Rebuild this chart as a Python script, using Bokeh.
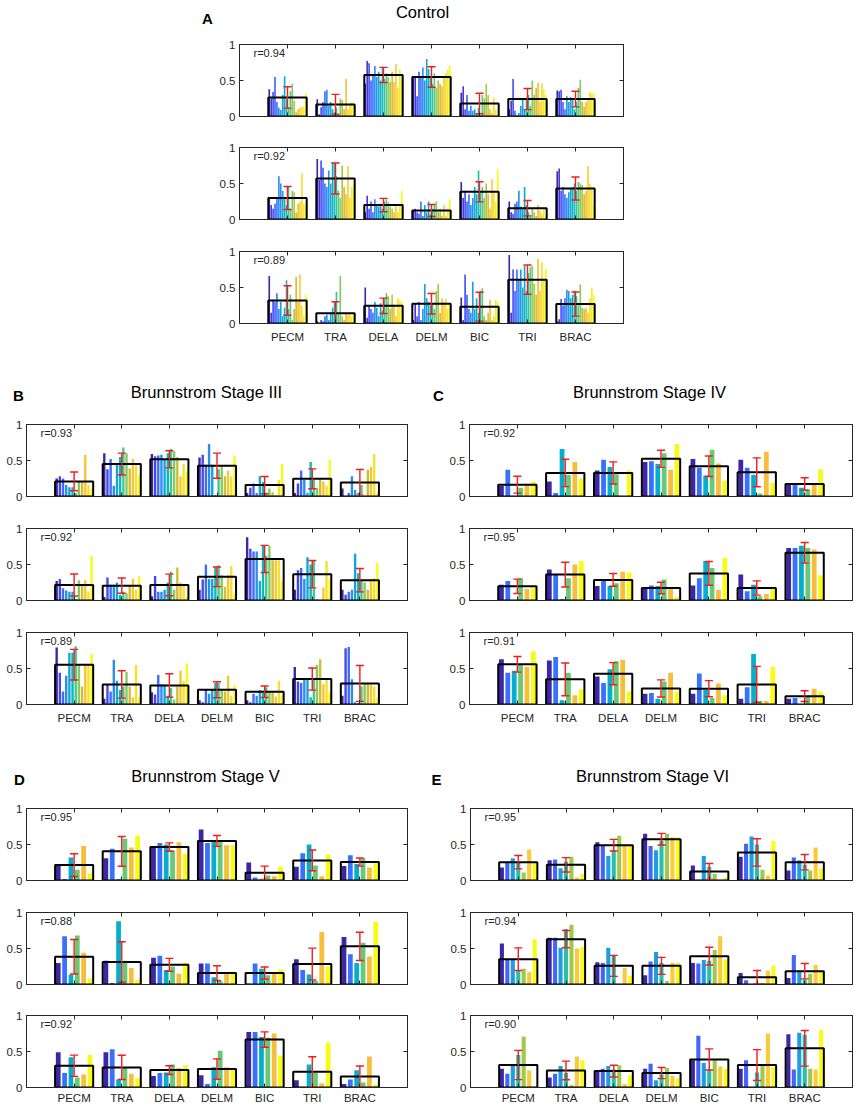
import numpy as np
from bokeh.plotting import figure
from bokeh.models import Range1d, LinearAxis, FixedTicker, Label, ColumnDataSource
from bokeh.layouts import column, row
from bokeh.embed import file_html
from bokeh.resources import INLINE

# ---------------- data ----------------
muscles = ["PECM", "TRA", "DELA", "DELM", "BIC", "TRI", "BRAC"]
ytick_vals = [0, 0.5, 1]
ytick_labels = ["0", "0.5", "1"]

panel_titles = ["Control", "Brunnstrom Stage III", "Brunnstrom Stage IV", "Brunnstrom Stage V", "Brunnstrom Stage VI"]
panel_letters = ["A", "B", "C", "D", "E"]

# correlation values per panel (rows 1..3)
A_r = [0.94, 0.92, 0.89]
B_r = [0.93, 0.92, 0.89]
C_r = [0.92, 0.95, 0.91]
D_r = [0.95, 0.88, 0.92]
E_r = [0.95, 0.94, 0.90]

# ----- Control (20 subjects) -----
A1_vals = [
    [0.38, 0.25, 0.34, 0.55, 0.20, 0.12, 0.09, 0.30, 0.56, 0.24, 0.12, 0.35, 0.45, 0.22, 0.06, 0.10, 0.12, 0.13, 0.14, 0.32],
    [0.24, 0.03, 0.13, 0.20, 0.35, 0.37, 0.15, 0.20, 0.10, 0.06, 0.12, 0.04, 0.25, 0.23, 0.10, 0.52, 0.10, 0.18, 0.20, 0.15],
    [0.46, 0.77, 0.74, 0.50, 0.58, 0.70, 0.55, 0.62, 0.50, 0.68, 0.52, 0.60, 0.55, 0.48, 0.62, 0.48, 0.73, 0.40, 0.65, 0.55],
    [0.53, 0.55, 0.28, 0.62, 0.55, 0.68, 0.50, 0.80, 0.66, 0.55, 0.45, 0.60, 0.40, 0.50, 0.45, 0.42, 0.55, 0.60, 0.65, 0.71],
    [0.33, 0.42, 0.10, 0.30, 0.08, 0.15, 0.08, 0.10, 0.05, 0.12, 0.02, 0.30, 0.25, 0.45, 0.30, 0.10, 0.05, 0.26, 0.10, 0.02],
    [0.10, 0.22, 0.52, 0.08, 0.02, 0.05, 0.15, 0.25, 0.10, 0.23, 0.30, 0.15, 0.50, 0.30, 0.40, 0.47, 0.20, 0.45, 0.38, 0.30],
    [0.36, 0.35, 0.37, 0.20, 0.10, 0.28, 0.20, 0.27, 0.24, 0.10, 0.20, 0.40, 0.51, 0.20, 0.14, 0.20, 0.24, 0.34, 0.32, 0.33],
]
A1_mean = [0.265, 0.167, 0.577, 0.549, 0.181, 0.242, 0.242]
A1_err = [0.149, 0.140, 0.105, 0.142, 0.142, 0.147, 0.109]

A2_vals = [
    [0.30, 0.20, 0.15, 0.22, 0.30, 0.60, 0.50, 0.40, 0.30, 0.20, 0.45, 0.15, 0.40, 0.38, 0.10, 0.22, 0.25, 0.64, 0.22, 0.22],
    [0.84, 0.55, 0.82, 0.72, 0.50, 0.45, 0.68, 0.50, 0.80, 0.78, 0.60, 0.40, 0.30, 0.75, 0.45, 0.35, 0.74, 0.30, 0.45, 0.50],
    [0.10, 0.33, 0.15, 0.25, 0.10, 0.28, 0.20, 0.18, 0.22, 0.15, 0.25, 0.28, 0.24, 0.18, 0.15, 0.10, 0.22, 0.10, 0.20, 0.40],
    [0.12, 0.15, 0.10, 0.08, 0.25, 0.05, 0.20, 0.10, 0.25, 0.08, 0.15, 0.20, 0.25, 0.10, 0.15, 0.05, 0.20, 0.05, 0.15, 0.28],
    [0.52, 0.30, 0.40, 0.25, 0.35, 0.20, 0.30, 0.45, 0.35, 0.68, 0.40, 0.45, 0.30, 0.50, 0.35, 0.15, 0.56, 0.40, 0.25, 0.70],
    [0.25, 0.10, 0.08, 0.22, 0.25, 0.40, 0.18, 0.15, 0.45, 0.20, 0.10, 0.05, 0.15, 0.10, 0.05, 0.20, 0.12, 0.08, 0.15, 0.05],
    [0.67, 0.71, 0.40, 0.45, 0.35, 0.30, 0.38, 0.42, 0.45, 0.50, 0.40, 0.52, 0.50, 0.48, 0.35, 0.40, 0.74, 0.50, 0.45, 0.20],
]
A2_mean = [0.298, 0.570, 0.200, 0.125, 0.385, 0.157, 0.430]
A2_err = [0.160, 0.215, 0.093, 0.083, 0.140, 0.107, 0.160]

A3_vals = [
    [0.66, 0.15, 0.33, 0.30, 0.42, 0.20, 0.30, 0.10, 0.22, 0.60, 0.20, 0.40, 0.05, 0.20, 0.65, 0.30, 0.68, 0.25, 0.10, 0.40],
    [0.03, 0.00, 0.05, 0.03, 0.10, 0.12, 0.05, 0.15, 0.22, 0.30, 0.44, 0.15, 0.66, 0.10, 0.05, 0.15, 0.12, 0.14, 0.10, 0.15],
    [0.50, 0.08, 0.25, 0.20, 0.15, 0.30, 0.22, 0.10, 0.28, 0.18, 0.35, 0.42, 0.38, 0.20, 0.40, 0.25, 0.10, 0.35, 0.32, 0.30],
    [0.05, 0.27, 0.10, 0.30, 0.05, 0.20, 0.55, 0.35, 0.30, 0.25, 0.28, 0.20, 0.45, 0.55, 0.15, 0.35, 0.30, 0.34, 0.20, 0.25],
    [0.36, 0.05, 0.68, 0.40, 0.20, 0.15, 0.58, 0.20, 0.35, 0.15, 0.46, 0.49, 0.10, 0.05, 0.15, 0.33, 0.05, 0.10, 0.33, 0.30],
    [0.95, 0.15, 0.75, 0.45, 0.75, 0.60, 0.75, 0.50, 0.80, 0.45, 0.70, 0.78, 0.80, 0.55, 0.40, 0.90, 0.45, 0.85, 0.60, 0.76],
    [0.03, 0.06, 0.34, 0.25, 0.35, 0.47, 0.45, 0.35, 0.40, 0.46, 0.38, 0.25, 0.54, 0.22, 0.20, 0.22, 0.15, 0.35, 0.50, 0.40],
]
A3_mean = [0.320, 0.144, 0.246, 0.274, 0.233, 0.609, 0.270]
A3_err = [0.205, 0.158, 0.107, 0.142, 0.200, 0.203, 0.168]

# ----- Brunnstrom Stage III (12 subjects) -----
B1_vals = [
    [0.25, 0.28, 0.25, 0.16, 0.13, 0.13, 0.05, 0.20, 0.20, 0.58, 0.16, 0.11],
    [0.60, 0.38, 0.52, 0.15, 0.45, 0.55, 0.68, 0.60, 0.39, 0.52, 0.45, 0.30],
    [0.59, 0.56, 0.57, 0.58, 0.52, 0.60, 0.66, 0.63, 0.55, 0.28, 0.45, 0.35],
    [0.54, 0.58, 0.44, 0.73, 0.44, 0.02, 0.38, 0.43, 0.28, 0.36, 0.28, 0.57],
    [0.05, 0.12, 0.18, 0.05, 0.28, 0.20, 0.05, 0.11, 0.06, 0.02, 0.23, 0.45],
    [0.05, 0.18, 0.36, 0.23, 0.05, 0.48, 0.23, 0.12, 0.25, 0.21, 0.15, 0.51],
    [0.11, 0.00, 0.05, 0.28, 0.09, 0.05, 0.16, 0.00, 0.37, 0.41, 0.59, 0.05],
]
B1_mean = [0.210, 0.450, 0.516, 0.428, 0.158, 0.246, 0.195]
B1_err = [0.130, 0.152, 0.119, 0.175, 0.119, 0.138, 0.179]

B2_vals = [
    [0.27, 0.30, 0.17, 0.14, 0.12, 0.12, 0.02, 0.28, 0.20, 0.28, 0.12, 0.62],
    [0.05, 0.32, 0.22, 0.22, 0.25, 0.08, 0.12, 0.10, 0.20, 0.30, 0.15, 0.34],
    [0.06, 0.34, 0.12, 0.12, 0.15, 0.25, 0.40, 0.15, 0.46, 0.25, 0.20, 0.05],
    [0.15, 0.29, 0.50, 0.30, 0.30, 0.46, 0.49, 0.35, 0.19, 0.35, 0.48, 0.10],
    [0.88, 0.72, 0.68, 0.68, 0.27, 0.77, 0.62, 0.76, 0.56, 0.56, 0.56, 0.27],
    [0.15, 0.42, 0.45, 0.30, 0.60, 0.50, 0.55, 0.02, 0.01, 0.18, 0.55, 0.30],
    [0.15, 0.08, 0.12, 0.15, 0.65, 0.38, 0.28, 0.25, 0.15, 0.30, 0.31, 0.52],
]
B2_mean = [0.216, 0.206, 0.216, 0.329, 0.577, 0.366, 0.282]
B2_err = [0.153, 0.106, 0.150, 0.136, 0.188, 0.190, 0.162]

B3_vals = [
    [0.79, 0.44, 0.18, 0.40, 0.72, 0.72, 0.81, 0.55, 0.25, 0.55, 0.55, 0.70],
    [0.08, 0.27, 0.18, 0.62, 0.33, 0.20, 0.25, 0.45, 0.25, 0.10, 0.55, 0.10],
    [0.17, 0.14, 0.41, 0.28, 0.28, 0.12, 0.23, 0.07, 0.25, 0.47, 0.33, 0.57],
    [0.06, 0.03, 0.20, 0.15, 0.20, 0.30, 0.30, 0.21, 0.18, 0.40, 0.12, 0.27],
    [0.06, 0.03, 0.15, 0.12, 0.20, 0.16, 0.24, 0.18, 0.17, 0.11, 0.33, 0.13],
    [0.52, 0.32, 0.30, 0.35, 0.35, 0.10, 0.35, 0.55, 0.63, 0.28, 0.35, 0.18],
    [0.12, 0.78, 0.80, 0.35, 0.03, 0.02, 0.25, 0.28, 0.28, 0.27, 0.25, 0.10],
]
B3_mean = [0.553, 0.279, 0.265, 0.205, 0.177, 0.353, 0.293]
B3_err = [0.212, 0.190, 0.163, 0.112, 0.079, 0.154, 0.249]

# ----- Brunnstrom Stage IV (6 subjects) -----
C1_vals = [
    [0.15, 0.37, 0.00, 0.12, 0.15, 0.20],
    [0.21, 0.05, 0.66, 0.30, 0.48, 0.25],
    [0.36, 0.51, 0.41, 0.31, 0.00, 0.36],
    [0.48, 0.49, 0.45, 0.60, 0.37, 0.73],
    [0.52, 0.40, 0.29, 0.65, 0.46, 0.22],
    [0.51, 0.40, 0.30, 0.04, 0.62, 0.19],
    [0.17, 0.17, 0.12, 0.10, 0.16, 0.38],
]
C1_mean = [0.164, 0.327, 0.327, 0.523, 0.420, 0.336, 0.173]
C1_err = [0.117, 0.190, 0.154, 0.119, 0.143, 0.201, 0.087]

C2_vals = [
    [0.22, 0.27, 0.00, 0.31, 0.16, 0.18],
    [0.43, 0.36, 0.02, 0.31, 0.50, 0.55],
    [0.20, 0.30, 0.20, 0.24, 0.40, 0.39],
    [0.17, 0.21, 0.20, 0.29, 0.17, 0.05],
    [0.21, 0.31, 0.55, 0.45, 0.15, 0.59],
    [0.36, 0.13, 0.22, 0.06, 0.09, 0.19],
    [0.73, 0.73, 0.76, 0.73, 0.71, 0.35],
]
C2_mean = [0.197, 0.360, 0.286, 0.174, 0.376, 0.174, 0.662]
C2_err = [0.100, 0.172, 0.088, 0.080, 0.165, 0.099, 0.143]

C3_vals = [
    [0.63, 0.44, 0.47, 0.56, 0.52, 0.74],
    [0.61, 0.66, 0.06, 0.44, 0.13, 0.21],
    [0.39, 0.30, 0.49, 0.60, 0.62, 0.18],
    [0.15, 0.16, 0.08, 0.32, 0.44, 0.18],
    [0.15, 0.43, 0.20, 0.09, 0.29, 0.13],
    [0.08, 0.24, 0.70, 0.05, 0.05, 0.52],
    [0.08, 0.09, 0.00, 0.12, 0.22, 0.18],
]
C3_mean = [0.558, 0.349, 0.428, 0.223, 0.219, 0.279, 0.116]
C3_err = [0.109, 0.228, 0.154, 0.119, 0.112, 0.251, 0.075]

# ----- Brunnstrom Stage V (6 subjects) -----
D1_vals = [
    [0.21, 0.02, 0.32, 0.15, 0.48, 0.10],
    [0.31, 0.44, 0.02, 0.58, 0.46, 0.62],
    [0.46, 0.52, 0.50, 0.42, 0.53, 0.37],
    [0.71, 0.52, 0.56, 0.55, 0.49, 0.49],
    [0.25, 0.04, 0.02, 0.07, 0.06, 0.19],
    [0.19, 0.38, 0.50, 0.21, 0.06, 0.36],
    [0.20, 0.35, 0.23, 0.31, 0.18, 0.24],
]
D1_mean = [0.214, 0.405, 0.465, 0.549, 0.107, 0.279, 0.256]
D1_err = [0.158, 0.207, 0.058, 0.075, 0.093, 0.144, 0.056]

D2_vals = [
    [0.30, 0.67, 0.14, 0.68, 0.44, 0.08],
    [0.33, 0.02, 0.88, 0.33, 0.23, 0.07],
    [0.37, 0.40, 0.20, 0.25, 0.15, 0.30],
    [0.29, 0.29, 0.10, 0.05, 0.16, 0.18],
    [0.01, 0.29, 0.22, 0.13, 0.15, 0.21],
    [0.35, 0.20, 0.14, 0.05, 0.73, 0.25],
    [0.66, 0.42, 0.30, 0.58, 0.39, 0.87],
]
D2_mean = [0.386, 0.312, 0.274, 0.158, 0.158, 0.284, 0.530]
D2_err = [0.240, 0.281, 0.089, 0.102, 0.086, 0.221, 0.196]

D3_vals = [
    [0.49, 0.20, 0.42, 0.14, 0.18, 0.45],
    [0.49, 0.53, 0.11, 0.28, 0.19, 0.13],
    [0.16, 0.20, 0.21, 0.32, 0.27, 0.31],
    [0.17, 0.05, 0.28, 0.51, 0.28, 0.27],
    [0.77, 0.77, 0.70, 0.69, 0.75, 0.44],
    [0.10, 0.01, 0.32, 0.20, 0.06, 0.62],
    [0.05, 0.11, 0.24, 0.07, 0.43, 0.04],
]
D3_mean = [0.302, 0.279, 0.242, 0.256, 0.665, 0.219, 0.153]
D3_err = [0.147, 0.168, 0.061, 0.142, 0.107, 0.209, 0.146]

# ----- Brunnstrom Stage VI (7 subjects) -----
E1_vals = [
    [0.18, 0.25, 0.31, 0.25, 0.11, 0.43, 0.25],
    [0.28, 0.29, 0.17, 0.26, 0.33, 0.04, 0.09],
    [0.53, 0.48, 0.34, 0.42, 0.62, 0.48, 0.48],
    [0.65, 0.48, 0.42, 0.55, 0.65, 0.60, 0.60],
    [0.21, 0.01, 0.34, 0.19, 0.09, 0.01, 0.04],
    [0.33, 0.51, 0.61, 0.50, 0.15, 0.07, 0.55],
    [0.14, 0.32, 0.28, 0.22, 0.14, 0.46, 0.17],
]
E1_mean = [0.255, 0.218, 0.490, 0.574, 0.125, 0.389, 0.255]
E1_err = [0.093, 0.100, 0.081, 0.081, 0.111, 0.190, 0.107]

E2_vals = [
    [0.57, 0.35, 0.35, 0.19, 0.22, 0.17, 0.63],
    [0.65, 0.65, 0.51, 0.77, 0.83, 0.50, 0.52],
    [0.31, 0.30, 0.51, 0.40, 0.00, 0.23, 0.12],
    [0.13, 0.32, 0.45, 0.30, 0.05, 0.30, 0.30],
    [0.30, 0.29, 0.34, 0.33, 0.48, 0.67, 0.35],
    [0.16, 0.06, 0.00, 0.02, 0.02, 0.19, 0.26],
    [0.09, 0.41, 0.19, 0.07, 0.15, 0.27, 0.18],
]
E2_mean = [0.352, 0.630, 0.259, 0.259, 0.394, 0.102, 0.185]
E2_err = [0.157, 0.120, 0.146, 0.118, 0.123, 0.093, 0.107]

E3_vals = [
    [0.26, 0.19, 0.32, 0.45, 0.71, 0.24, 0.02],
    [0.14, 0.19, 0.30, 0.20, 0.03, 0.43, 0.38],
    [0.23, 0.26, 0.30, 0.25, 0.31, 0.05, 0.17],
    [0.26, 0.33, 0.10, 0.18, 0.27, 0.16, 0.13],
    [0.38, 0.72, 0.34, 0.25, 0.40, 0.29, 0.26],
    [0.26, 0.38, 0.00, 0.21, 0.30, 0.75, 0.28],
    [0.74, 0.25, 0.76, 0.73, 0.26, 0.25, 0.80],
]
E3_mean = [0.312, 0.237, 0.228, 0.200, 0.390, 0.312, 0.544]
E3_err = [0.203, 0.130, 0.082, 0.077, 0.147, 0.214, 0.247]

# ---------------- style ----------------
FONT = "Liberation Sans"
AX = "#262626"
ERR_COLOR = "#f21d1d"
TITLE_SIZE = "16.5px"
LETTER_SIZE = "15px"
PARULA_ANCHORS = [
    (0.2422, 0.1504, 0.6603), (0.2717, 0.2224, 0.8387), (0.2803, 0.2938, 0.9469),
    (0.2716, 0.3685, 0.9946), (0.2166, 0.4465, 0.9928), (0.1785, 0.5288, 0.9682),
    (0.1432, 0.5875, 0.9142), (0.0979, 0.6353, 0.8668), (0.0227, 0.6808, 0.8090),
    (0.0227, 0.7168, 0.7420), (0.1557, 0.7540, 0.6655), (0.2811, 0.7809, 0.5731),
    (0.4137, 0.7913, 0.4597), (0.5766, 0.7945, 0.3389), (0.7360, 0.7636, 0.2184),
    (0.8701, 0.7360, 0.1836), (0.9704, 0.7440, 0.2340), (0.9948, 0.8078, 0.2072),
    (0.9667, 0.8766, 0.1489), (0.9527, 0.9400, 0.1230), (0.9769, 0.9839, 0.0805),
]


def parula(n):
    arr = np.array(PARULA_ANCHORS)
    at = np.linspace(0, 1, len(arr))
    out = []
    for t in np.linspace(0, 1, n):
        rgb = [np.interp(t, at, arr[:, k]) for k in range(3)]
        out.append("#%02x%02x%02x" % tuple(int(round(c * 255)) for c in rgb))
    return out


group_pos = list(range(1, len(muscles) + 1))
x_end = len(muscles) + 1


def style_axis(ax, show, standoff=4):
    ax.axis_line_color = AX
    ax.axis_line_width = 1
    ax.major_tick_line_color = AX
    ax.major_tick_in = 4
    ax.major_tick_out = 0
    ax.minor_tick_line_color = None
    if show:
        ax.major_label_text_font = FONT
        ax.major_label_text_font_size = "11.5px"
        ax.major_label_text_color = AX
        ax.major_label_standoff = standoff
    else:
        ax.major_label_text_font_size = "1px"
        ax.major_label_text_color = None
        ax.major_label_standoff = 0


def subplot(vals, means, errs, r, fw, fh, left, right, top, bottom, show_x, xstand=7):
    p = figure(frame_width=fw, frame_height=fh, x_range=Range1d(0, x_end), y_range=Range1d(0, 1),
               output_backend="svg", toolbar_location=None, x_axis_type=None, y_axis_type=None,
               min_border_left=left, min_border_right=right, min_border_top=top,
               min_border_bottom=bottom)
    p.outline_line_color = AX
    p.background_fill_color = "white"

    if show_x:
        xb = LinearAxis(ticker=FixedTicker(ticks=group_pos),
                        major_label_overrides={g: m for g, m in zip(group_pos, muscles)})
    else:
        xb = LinearAxis(ticker=FixedTicker(ticks=group_pos),
                        major_label_overrides={g: "" for g in group_pos})
    style_axis(xb, show_x, xstand)
    p.add_layout(xb, "below")
    xt = LinearAxis(ticker=FixedTicker(ticks=group_pos), major_label_overrides={g: "" for g in group_pos})
    style_axis(xt, False)
    p.add_layout(xt, "above")
    yl = LinearAxis(ticker=FixedTicker(ticks=ytick_vals),
                    major_label_overrides={v: s for v, s in zip(ytick_vals, ytick_labels)})
    style_axis(yl, True, 4)
    p.add_layout(yl, "left")
    yr = LinearAxis(ticker=FixedTicker(ticks=ytick_vals), major_label_overrides={v: "" for v in ytick_vals})
    style_axis(yr, False)
    p.add_layout(yr, "right")

    n = len(vals[0])
    cols = parula(n)
    slot = 0.8 / n
    ratio = 0.85 if n > 15 else 0.75
    xs, tops, cs = [], [], []
    for g, grp in zip(group_pos, vals):
        for i, v in enumerate(grp):
            xs.append(g - 0.4 + (i + 0.5) * slot)
            tops.append(v)
            cs.append(cols[i])
    src = ColumnDataSource(dict(x=xs, top=tops, color=cs))
    p.vbar(x="x", top="top", bottom=0, width=slot * ratio, fill_color="color", line_color=None, source=src)

    # mean box
    msrc = ColumnDataSource(dict(x=group_pos, top=means))
    p.vbar(x="x", top="top", bottom=0, width=0.8, fill_color=None, line_color="black", line_width=2, source=msrc)

    # error bars
    lo = [m - e for m, e in zip(means, errs)]
    hi = [m + e for m, e in zip(means, errs)]
    cap = 0.085
    esrc = ColumnDataSource(dict(x=group_pos, lo=lo, hi=hi,
                                 xl=[g - cap for g in group_pos], xr=[g + cap for g in group_pos]))
    p.segment(x0="x", x1="x", y0="lo", y1="hi", line_color=ERR_COLOR, line_width=1.4, source=esrc)
    p.segment(x0="xl", x1="xr", y0="lo", y1="lo", line_color=ERR_COLOR, line_width=1.4, source=esrc)
    p.segment(x0="xl", x1="xr", y0="hi", y1="hi", line_color=ERR_COLOR, line_width=1.4, source=esrc)

    p.add_layout(Label(x=14 / (fw / x_end), y=1 - 8 / fh, text="r=%.2f" % r, text_font=FONT,
                       text_font_size="11px", text_color=AX, text_baseline="middle", text_align="left"))
    return p


def header(w, h, items):
    p = figure(width=w, height=h, x_range=Range1d(0, w), y_range=Range1d(h, 0),
               output_backend="svg", toolbar_location=None, x_axis_type=None, y_axis_type=None,
               min_border=0)
    p.outline_line_color = None
    for (x, y, txt, size, bold) in items:
        p.add_layout(Label(x=x, y=y, text=txt, text_font=FONT, text_font_size=size,
                           text_font_style="bold" if bold else "normal", text_color="black",
                           text_align="center", text_baseline="middle"))
    return p


W = 855

# ---- Panel A ----
hA = header(W, 36, [(422, 11, panel_titles[0], TITLE_SIZE, False), (207, 18, panel_letters[0], LETTER_SIZE, True)])
A_fw, A_left, A_right = 384, 239, 3
A1 = subplot(A1_vals, A1_mean, A1_err, A_r[0], A_fw, 72, A_left, A_right, 8, 15, False)
A2 = subplot(A2_vals, A2_mean, A2_err, A_r[1], A_fw, 72, A_left, A_right, 16, 15, False)
A3 = subplot(A3_vals, A3_mean, A3_err, A_r[2], A_fw, 72, A_left, A_right, 17, 25, True)

# ---- Panels B & C ----
hBC = header(W, 60, [(206, 43, panel_titles[1], TITLE_SIZE, False), (18, 46.5, panel_letters[1], LETTER_SIZE, True),
                     (649, 43, panel_titles[2], TITLE_SIZE, False), (438, 46.5, panel_letters[2], LETTER_SIZE, True)])
L_fw, L_left, L_right = 381, 26, 32
R_fw, R_left, R_right = 383, 30, 3
B1 = subplot(B1_vals, B1_mean, B1_err, B_r[0], L_fw, 72, L_left, L_right, 16, 15, False)
B2 = subplot(B2_vals, B2_mean, B2_err, B_r[1], L_fw, 72, L_left, L_right, 17, 15, False)
B3 = subplot(B3_vals, B3_mean, B3_err, B_r[2], L_fw, 72, L_left, L_right, 17, 25, True)
C1 = subplot(C1_vals, C1_mean, C1_err, C_r[0], R_fw, 72, R_left, R_right, 16, 15, False)
C2 = subplot(C2_vals, C2_mean, C2_err, C_r[1], R_fw, 72, R_left, R_right, 17, 15, False)
C3 = subplot(C3_vals, C3_mean, C3_err, C_r[2], R_fw, 72, R_left, R_right, 17, 25, True)

# ---- Panels D & E ----
hDE = header(W, 60, [(205, 46, panel_titles[3], TITLE_SIZE, False), (19, 49.5, panel_letters[3], LETTER_SIZE, True),
                     (652, 46, panel_titles[4], TITLE_SIZE, False), (436, 49.5, panel_letters[4], LETTER_SIZE, True)])
E_left, E_fw, E_right = 31, 382, 3
D1 = subplot(D1_vals, D1_mean, D1_err, D_r[0], L_fw, 72, L_left, L_right, 19, 15, False)
D2 = subplot(D2_vals, D2_mean, D2_err, D_r[1], L_fw, 72, L_left, L_right, 17, 15, False)
D3 = subplot(D3_vals, D3_mean, D3_err, D_r[2], L_fw, 72, L_left, L_right, 16, 19, True, 4)
E1 = subplot(E1_vals, E1_mean, E1_err, E_r[0], E_fw, 72, E_left, E_right, 19, 15, False)
E2 = subplot(E2_vals, E2_mean, E2_err, E_r[1], E_fw, 72, E_left, E_right, 17, 15, False)
E3 = subplot(E3_vals, E3_mean, E3_err, E_r[2], E_fw, 72, E_left, E_right, 16, 19, True, 4)

layout = column(
    hA,
    column(A1, A2, A3, spacing=0),
    hBC,
    row(column(B1, B2, B3, spacing=0), column(C1, C2, C3, spacing=0), spacing=0),
    hDE,
    row(column(D1, D2, D3, spacing=0), column(E1, E2, E3, spacing=0), spacing=0),
    spacing=0,
)

open("out.html", "w").write(file_html(layout, INLINE))
